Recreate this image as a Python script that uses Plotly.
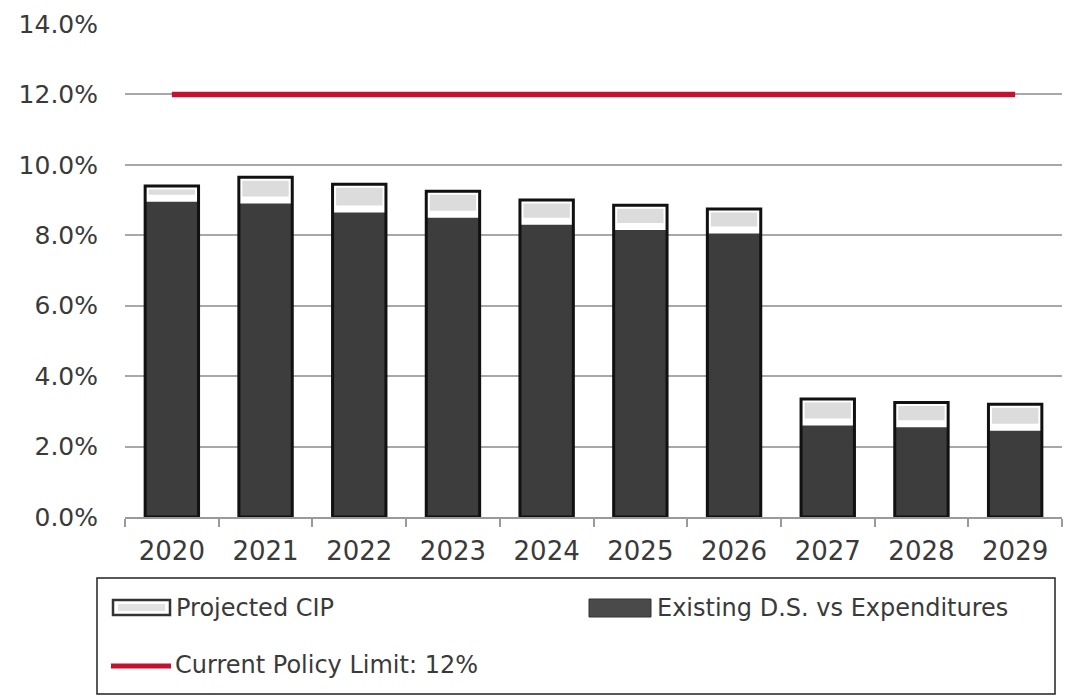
import plotly.graph_objects as go

# Debt service ratio by fiscal year (percent of expenditures)
years = ["2020", "2021", "2022", "2023", "2024", "2025", "2026", "2027", "2028", "2029"]
existing_ds = [9.05, 9.0, 8.75, 8.6, 8.4, 8.25, 8.15, 2.7, 2.65, 2.55]
projected_cip = [0.35, 0.65, 0.7, 0.65, 0.6, 0.6, 0.6, 0.65, 0.6, 0.65]
policy_limit = [12.0] * len(years)

y_ticks = [0, 2, 4, 6, 8, 10, 12, 14]

legend_labels = ["Projected CIP", "Existing D.S. vs Expenditures", "Current Policy Limit: 12%"]

DARK = "#3d3d3d"
CIP_FILL = "#dcdcdc"
RED = "#c5102f"
FONT = "DejaVu Sans"
TEXT = "#3a3a3a"

totals = [e + c for e, c in zip(existing_ds, projected_cip)]

fig = go.Figure()

fig.add_trace(go.Bar(
    x=years, y=existing_ds, width=0.57,
    marker=dict(color=DARK, line=dict(width=0)),
    showlegend=False, hoverinfo="skip",
))
fig.add_trace(go.Bar(
    x=years, y=projected_cip, base=existing_ds, width=0.57,
    marker=dict(color=CIP_FILL, line=dict(color="white", width=7)),
    showlegend=False, hoverinfo="skip",
))
# black frame around each full stacked column
fig.add_trace(go.Bar(
    x=years, y=totals, width=0.57,
    marker=dict(color="rgba(0,0,0,0)", line=dict(color="#111111", width=3)),
    showlegend=False, hoverinfo="skip",
))
fig.add_trace(go.Scatter(
    x=years, y=policy_limit, mode="lines",
    line=dict(color=RED, width=5.5),
    showlegend=False, hoverinfo="skip",
))

# plot area geometry in pixels (for placing the legend below the axis)
W, H = 1065, 696
L, R, T, B = 125, 3, 24, 179
pw, ph = W - L - R, H - T - B


def px(x):
    return (x - L) / pw


def py(y):
    return (H - B - y) / ph


shapes = [
    # legend frame
    dict(type="rect", xref="paper", yref="paper",
         x0=px(97), x1=px(1055), y0=py(578), y1=py(694),
         line=dict(color="#222222", width=1.5), fillcolor="white", layer="above"),
    # Projected CIP swatch
    dict(type="rect", xref="paper", yref="paper",
         x0=px(113), x1=px(170), y0=py(600), y1=py(615),
         line=dict(color="#333333", width=2.5), fillcolor="white", layer="above"),
    dict(type="rect", xref="paper", yref="paper",
         x0=px(118), x1=px(165), y0=py(604), y1=py(611),
         line=dict(width=0), fillcolor="#e2e2e2", layer="above"),
    # Existing D.S. swatch
    dict(type="rect", xref="paper", yref="paper",
         x0=px(589), x1=px(651), y0=py(599), y1=py(617),
         line=dict(color="#333333", width=1), fillcolor="#4a4a4a", layer="above"),
    # policy limit swatch
    dict(type="line", xref="paper", yref="paper",
         x0=px(111), x1=px(171), y0=py(666), y1=py(666),
         line=dict(color=RED, width=5), layer="above"),
]

annotations = [
    dict(text=legend_labels[0], x=px(174), y=py(608)),
    dict(text=legend_labels[1], x=px(655), y=py(608)),
    dict(text=legend_labels[2], x=px(173), y=py(665)),
]
for a in annotations:
    a.update(xref="paper", yref="paper", xanchor="left", yanchor="middle",
             showarrow=False, font=dict(family=FONT, size=24, color=TEXT))

fig.update_layout(
    width=W, height=H,
    margin=dict(l=L, r=R, t=T, b=B, pad=0),
    barmode="overlay",
    plot_bgcolor="white", paper_bgcolor="white",
    font=dict(family=FONT, size=26, color=TEXT),
    shapes=shapes, annotations=annotations,
    showlegend=False,
)
fig.update_xaxes(
    type="category", range=[-0.5, 9.5],
    showgrid=False, showline=True, linecolor="#9a9a9a", linewidth=1.5,
    ticks="outside", tickson="boundaries", ticklen=8, tickcolor="#9a9a9a", tickwidth=1.5,
    ticklabelstandoff=10,
    tickfont=dict(family=FONT, size=26, color=TEXT),
)
fig.update_yaxes(
    range=[0, 14], tickvals=y_ticks, ticktext=[f"{v:.1f}%" for v in y_ticks],
    showgrid=True, gridcolor="#a8a8a8", gridwidth=1.5,
    zeroline=False, showline=False,
    ticklabelstandoff=26,
    tickfont=dict(family=FONT, size=25, color=TEXT),
)

fig.write_html("out.html")
